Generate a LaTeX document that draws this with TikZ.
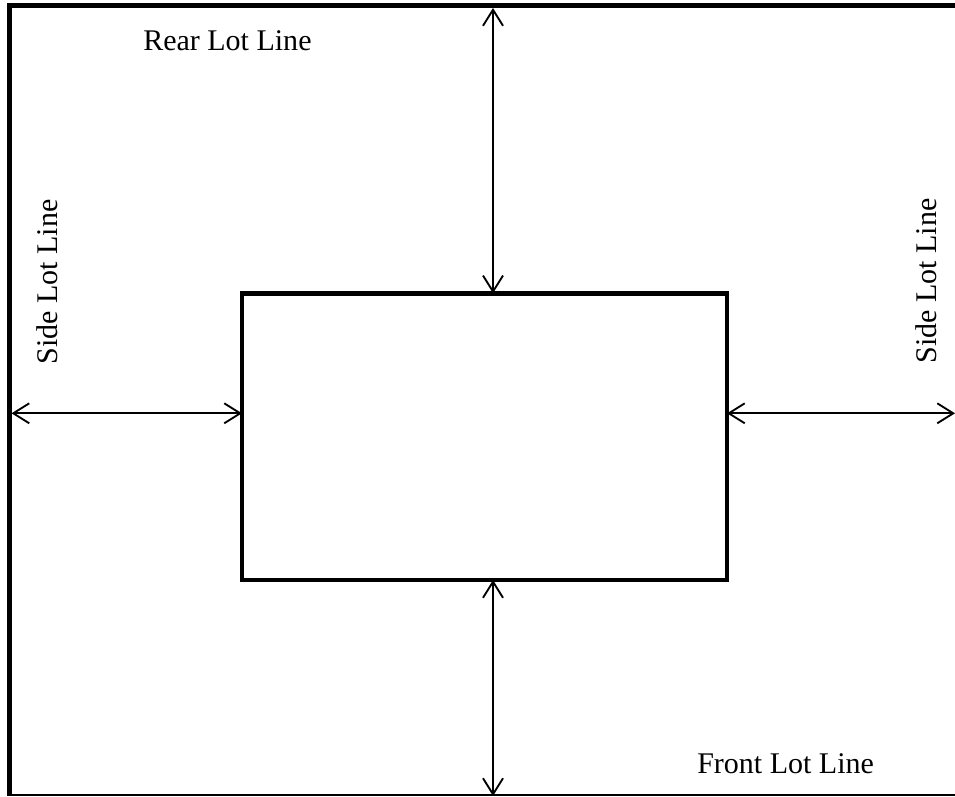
\documentclass[tikz,border=0pt]{standalone}
\usepackage{fontspec}
\setmainfont{Liberation Serif}
\usetikzlibrary{arrows.meta}
\begin{document}
\begin{tikzpicture}[x=0.75pt,y=-0.75pt,
  lotline/.style={line width=3.75pt},
  barb/.style={Straight Barb[length=12pt,width=15pt,line width=1.4pt]},
  dimarrow/.style={line width=1.4pt,{Straight Barb[length=12pt,width=15pt,line width=1.4pt]}-{Straight Barb[length=12pt,width=15pt,line width=1.4pt]}},
  lbl/.style={font=\fontsize{22.5pt}{25pt}\selectfont, inner sep=0pt}]
\useasboundingbox (0,0) rectangle (955,796);
% lot lines
\coordinate (bl) at (9.2,796);
\coordinate (tl) at (9.2,5.8);
\coordinate (tr) at (955,5.8);
\coordinate (bl2) at (9.2,795.2);
\coordinate (br2) at (955,795.2);
\draw[lotline] (bl) -- (tl) -- (tr);
\draw[line width=1.2pt] (bl2) -- (br2);
% building
\node[draw, line width=3.4pt, minimum width=363.75pt, minimum height=215pt, inner sep=0pt, outer sep=0pt] (bldg) at (484.5,436.65) {};
\coordinate (top) at (493,8);
\coordinate (bot) at (493,796);
\coordinate (lft) at (11.5,413.3);
\coordinate (rgt) at (955,413.3);
\draw[dimarrow] (top) -- (bldg.north -| top);
\draw[dimarrow] (bldg.south -| bot) -- (bot);
\draw[dimarrow] (lft) -- (bldg.west |- lft);
\draw[dimarrow] (bldg.east |- rgt) -- (rgt);
% labels
\node[lbl, anchor=base west] (rear) at (143,50) {Rear Lot Line};
\node[lbl, anchor=base west] (front) at (697,773) {Front Lot Line};
\node[lbl, anchor=base, rotate=90] (sidel) at (57,282) {Side Lot Line};
\node[lbl, anchor=base, rotate=90] (sider) at (936,281) {Side Lot Line};
\end{tikzpicture}
\end{document}
